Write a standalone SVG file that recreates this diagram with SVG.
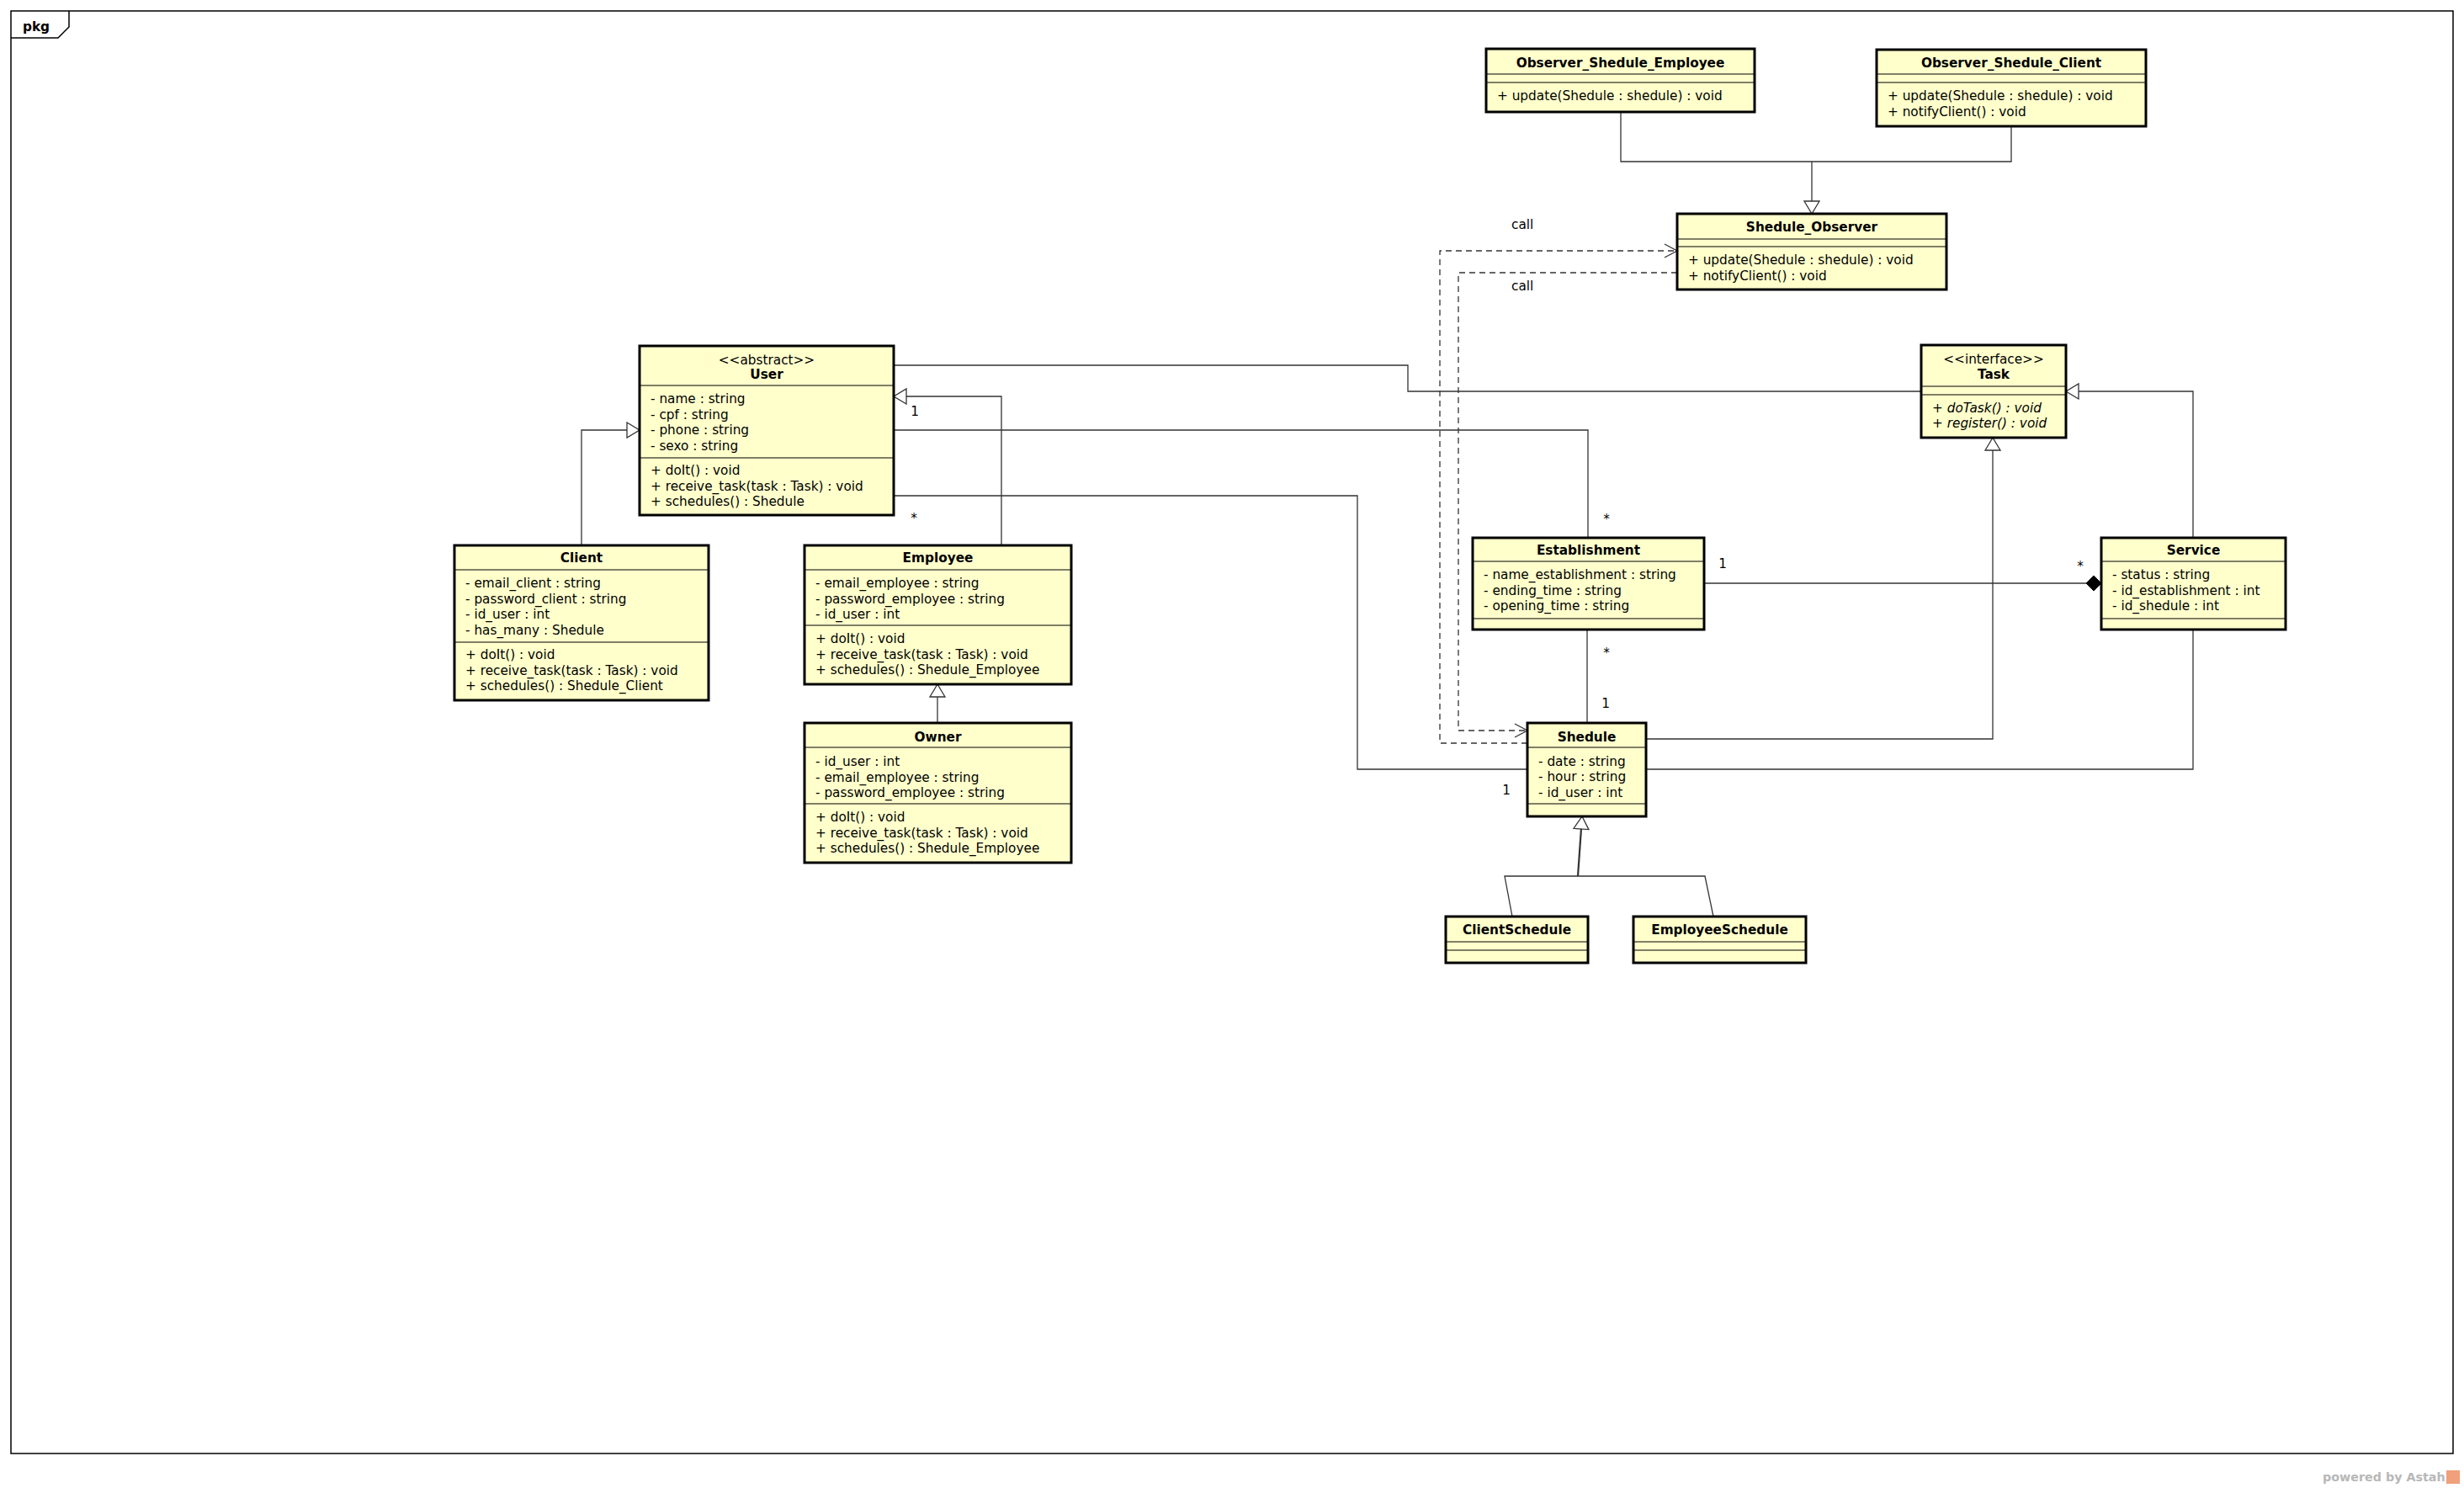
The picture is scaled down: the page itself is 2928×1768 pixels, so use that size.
<svg xmlns="http://www.w3.org/2000/svg" width="2928" height="1768" viewBox="0 0 2928 1768">
<style>
  .bg{fill:#fff}
  .frame{fill:none;stroke:#000;stroke-width:1.5}
  .box{fill:#ffffcc;stroke:#000;stroke-width:3}
  .dv{stroke:#000;stroke-width:1.2}
  .t{font-family:"DejaVu Sans","Liberation Sans",sans-serif;font-size:15.3px;fill:#000}
  .b{font-weight:bold;text-anchor:middle}
  .c{text-anchor:middle}
  .i{font-style:italic}
  .ln{fill:none;stroke:#333;stroke-width:1.3}
  .dash{stroke-dasharray:7,5}
  .thick{stroke-width:2.2}
  .pw{font-family:"DejaVu Sans","Liberation Sans",sans-serif;font-size:14.3px;font-weight:bold;fill:#b8b8b8}
</style>
<defs>
  <marker id="gen" markerUnits="userSpaceOnUse" markerWidth="18" markerHeight="22" refX="16" refY="10" orient="auto">
    <path d="M1,1 L16,10 L1,19 z" fill="#fff" stroke="#333" stroke-width="1.3"/>
  </marker>
  <marker id="open" markerUnits="userSpaceOnUse" markerWidth="18" markerHeight="20" refX="16" refY="9" orient="auto">
    <path d="M1,1 L16,9 L1,17" fill="none" stroke="#333" stroke-width="1.3"/>
  </marker>
  <marker id="comp" markerUnits="userSpaceOnUse" markerWidth="20" markerHeight="20" refX="18" refY="9" orient="auto">
    <path d="M0,9 L9,0 L18,9 L9,18 z" fill="#000" stroke="#000" stroke-width="1"/>
  </marker>
</defs>
<rect class="bg" x="0" y="0" width="2928" height="1768"/>

<g id="frame">
  <rect class="frame" x="13" y="13" width="2902" height="1714"/>
  <path class="frame" d="M13,45 L69,45 L82,32 L82,13"/>
  <text class="t" x="27" y="37" style="font-weight:bold">pkg</text>
</g>

<g id="connectors">
  <polyline class="ln" points="1926,133 1926,192 2390,192 2390,150"/>
  <polyline class="ln" points="2153,192 2153,254" marker-end="url(#gen)"/>
  <polyline class="ln dash" points="1815,883 1711,883 1711,298 1993,298" marker-end="url(#open)"/>
  <polyline class="ln dash" points="1993,324 1733,324 1733,868 1815,868" marker-end="url(#open)"/>
  <polyline class="ln" points="1062,434 1673,434 1673,465 2283,465"/>
  <polyline class="ln" points="1190,648 1190,471 1062,471" marker-end="url(#gen)"/>
  <polyline class="ln" points="691,648 691,511 760,511" marker-end="url(#gen)"/>
  <polyline class="ln" points="1114,859 1114,813" marker-end="url(#gen)"/>
  <polyline class="ln" points="1062,511 1887,511 1887,639"/>
  <polyline class="ln" points="1062,589 1613,589 1613,914 1815,914"/>
  <polyline class="ln" points="1886,748 1886,859"/>
  <polyline class="ln" points="2025,693 2497,693" marker-end="url(#comp)"/>
  <polyline class="ln" points="2606,639 2606,465 2455,465" marker-end="url(#gen)"/>
  <polyline class="ln" points="1956,878 2368,878 2368,520" marker-end="url(#gen)"/>
  <polyline class="ln" points="2606,748 2606,914 1956,914"/>
  <polyline class="ln thick" points="1875,1041 1880,970" marker-end="url(#gen)"/>
  <polyline class="ln" points="1797,1089 1788,1041 2026,1041 2036,1089"/>

  <text class="t" x="1796" y="272">call</text>
  <text class="t" x="1796" y="345">call</text>
  <text class="t c" x="1087" y="494">1</text>
  <text class="t c" x="1086" y="621">*</text>
  <text class="t c" x="1909" y="622">*</text>
  <text class="t c" x="1909" y="781">*</text>
  <text class="t c" x="1908" y="841">1</text>
  <text class="t c" x="1790" y="944">1</text>
  <text class="t c" x="2047" y="675">1</text>
  <text class="t c" x="2472" y="678">*</text>
</g>

<g id="Observer_Shedule_Employee">
  <rect class="box" x="1766" y="58" width="319" height="75"/>
  <line class="dv" x1="1766" y1="88" x2="2085" y2="88"/>
  <line class="dv" x1="1766" y1="98" x2="2085" y2="98"/>
  <text class="t b" x="1925.5" y="80">Observer_Shedule_Employee</text>
  <text class="t" x="1779" y="119">+ update(Shedule : shedule) : void</text>
</g>

<g id="Observer_Shedule_Client">
  <rect class="box" x="2230" y="59" width="320" height="91"/>
  <line class="dv" x1="2230" y1="88" x2="2550" y2="88"/>
  <line class="dv" x1="2230" y1="98" x2="2550" y2="98"/>
  <text class="t b" x="2390" y="80">Observer_Shedule_Client</text>
  <text class="t" x="2243" y="119">+ update(Shedule : shedule) : void</text>
  <text class="t" x="2243" y="138">+ notifyClient() : void</text>
</g>

<g id="Shedule_Observer">
  <rect class="box" x="1993" y="254" width="320" height="90"/>
  <line class="dv" x1="1993" y1="284" x2="2313" y2="284"/>
  <line class="dv" x1="1993" y1="293" x2="2313" y2="293"/>
  <text class="t b" x="2153" y="275">Shedule_Observer</text>
  <text class="t" x="2006" y="314">+ update(Shedule : shedule) : void</text>
  <text class="t" x="2006" y="333">+ notifyClient() : void</text>
</g>

<g id="User">
  <rect class="box" x="760" y="411" width="302" height="201"/>
  <line class="dv" x1="760" y1="458" x2="1062" y2="458"/>
  <line class="dv" x1="760" y1="544" x2="1062" y2="544"/>
  <text class="t c" x="911" y="433">&lt;&lt;abstract&gt;&gt;</text>
  <text class="t b" x="911" y="450">User</text>
  <text class="t" x="773" y="479">- name : string</text>
  <text class="t" x="773" y="497.5">- cpf : string</text>
  <text class="t" x="773" y="516">- phone : string</text>
  <text class="t" x="773" y="534.5">- sexo : string</text>
  <text class="t" x="773" y="564">+ doIt() : void</text>
  <text class="t" x="773" y="582.5">+ receive_task(task : Task) : void</text>
  <text class="t" x="773" y="601">+ schedules() : Shedule</text>
</g>

<g id="Task">
  <rect class="box" x="2283" y="410" width="172" height="110"/>
  <line class="dv" x1="2283" y1="459" x2="2455" y2="459"/>
  <line class="dv" x1="2283" y1="469" x2="2455" y2="469"/>
  <text class="t c" x="2369" y="432">&lt;&lt;interface&gt;&gt;</text>
  <text class="t b" x="2369" y="450">Task</text>
  <text class="t" x="2296" y="490">+ <tspan class="i">doTask() : void</tspan></text>
  <text class="t" x="2296" y="508">+ <tspan class="i">register() : void</tspan></text>
</g>

<g id="Client">
  <rect class="box" x="540" y="648" width="302" height="184"/>
  <line class="dv" x1="540" y1="677" x2="842" y2="677"/>
  <line class="dv" x1="540" y1="763" x2="842" y2="763"/>
  <text class="t b" x="691" y="668">Client</text>
  <text class="t" x="553" y="698">- email_client : string</text>
  <text class="t" x="553" y="716.5">- password_client : string</text>
  <text class="t" x="553" y="735">- id_user : int</text>
  <text class="t" x="553" y="753.5">- has_many : Shedule</text>
  <text class="t" x="553" y="783">+ doIt() : void</text>
  <text class="t" x="553" y="801.5">+ receive_task(task : Task) : void</text>
  <text class="t" x="553" y="820">+ schedules() : Shedule_Client</text>
</g>

<g id="Employee">
  <rect class="box" x="956" y="648" width="317" height="165"/>
  <line class="dv" x1="956" y1="677" x2="1273" y2="677"/>
  <line class="dv" x1="956" y1="743" x2="1273" y2="743"/>
  <text class="t b" x="1114.5" y="668">Employee</text>
  <text class="t" x="969" y="698">- email_employee : string</text>
  <text class="t" x="969" y="716.5">- password_employee : string</text>
  <text class="t" x="969" y="735">- id_user : int</text>
  <text class="t" x="969" y="764">+ doIt() : void</text>
  <text class="t" x="969" y="782.5">+ receive_task(task : Task) : void</text>
  <text class="t" x="969" y="801">+ schedules() : Shedule_Employee</text>
</g>

<g id="Owner">
  <rect class="box" x="956" y="859" width="317" height="166"/>
  <line class="dv" x1="956" y1="888" x2="1273" y2="888"/>
  <line class="dv" x1="956" y1="955" x2="1273" y2="955"/>
  <text class="t b" x="1114.5" y="881">Owner</text>
  <text class="t" x="969" y="910">- id_user : int</text>
  <text class="t" x="969" y="928.5">- email_employee : string</text>
  <text class="t" x="969" y="947">- password_employee : string</text>
  <text class="t" x="969" y="976">+ doIt() : void</text>
  <text class="t" x="969" y="994.5">+ receive_task(task : Task) : void</text>
  <text class="t" x="969" y="1013">+ schedules() : Shedule_Employee</text>
</g>

<g id="Establishment">
  <rect class="box" x="1750" y="639" width="275" height="109"/>
  <line class="dv" x1="1750" y1="667" x2="2025" y2="667"/>
  <line class="dv" x1="1750" y1="735" x2="2025" y2="735"/>
  <text class="t b" x="1887.5" y="659">Establishment</text>
  <text class="t" x="1763" y="688">- name_establishment : string</text>
  <text class="t" x="1763" y="707">- ending_time : string</text>
  <text class="t" x="1763" y="725">- opening_time : string</text>
</g>

<g id="Service">
  <rect class="box" x="2497" y="639" width="219" height="109"/>
  <line class="dv" x1="2497" y1="667" x2="2716" y2="667"/>
  <line class="dv" x1="2497" y1="735" x2="2716" y2="735"/>
  <text class="t b" x="2606.5" y="659">Service</text>
  <text class="t" x="2510" y="688">- status : string</text>
  <text class="t" x="2510" y="707">- id_establishment : int</text>
  <text class="t" x="2510" y="725">- id_shedule : int</text>
</g>

<g id="Shedule">
  <rect class="box" x="1815" y="859" width="141" height="111"/>
  <line class="dv" x1="1815" y1="888" x2="1956" y2="888"/>
  <line class="dv" x1="1815" y1="955" x2="1956" y2="955"/>
  <text class="t b" x="1885.5" y="881">Shedule</text>
  <text class="t" x="1828" y="909.5">- date : string</text>
  <text class="t" x="1828" y="928">- hour : string</text>
  <text class="t" x="1828" y="946.5">- id_user : int</text>
</g>

<g id="ClientSchedule">
  <rect class="box" x="1718" y="1089" width="169" height="55"/>
  <line class="dv" x1="1718" y1="1119" x2="1887" y2="1119"/>
  <line class="dv" x1="1718" y1="1129" x2="1887" y2="1129"/>
  <text class="t b" x="1802.5" y="1110">ClientSchedule</text>
</g>

<g id="EmployeeSchedule">
  <rect class="box" x="1941" y="1089" width="205" height="55"/>
  <line class="dv" x1="1941" y1="1119" x2="2146" y2="1119"/>
  <line class="dv" x1="1941" y1="1129" x2="2146" y2="1129"/>
  <text class="t b" x="2043.5" y="1110">EmployeeSchedule</text>
</g>

<g id="footer">
  <text class="pw" x="2760" y="1760">powered by Astah</text>
  <rect x="2907" y="1747" width="16" height="16" fill="#f0a07a"/>
</g>
</svg>
